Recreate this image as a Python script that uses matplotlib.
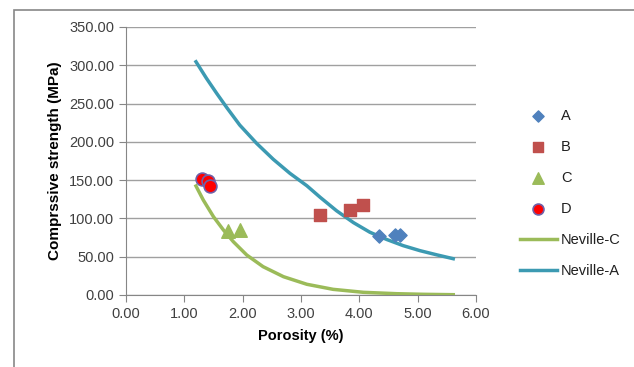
import matplotlib
matplotlib.use("Agg")
import matplotlib.pyplot as plt
from matplotlib.patches import Rectangle

plt.rcParams['font.family'] = ['Liberation Sans', 'DejaVu Sans']

# measured points
a_x = [4.34, 4.61, 4.70]
a_y = [77, 78, 78]
b_x = [3.33, 3.84, 4.07]
b_y = [104, 111, 117]
c_x = [1.75, 1.95]
c_y = [83, 85]
d_x = [1.31, 1.41, 1.44]
d_y = [152, 149, 142]

# curves
nev_c_x = [1.20, 1.325, 1.50, 1.67, 1.84, 2.07, 2.35, 2.70, 3.10, 3.55, 4.07, 4.64, 5.10, 5.61]
nev_c_y = [142.3, 124, 102.2, 84.9, 69.6, 52.2, 37, 23.9, 14, 7.4, 3.5, 1.7, 0.9, 0.4]
nev_a_x = [1.20, 1.38, 1.555, 1.73, 1.95, 2.24, 2.525, 2.81, 3.10, 3.33, 3.61,
           3.90, 4.18, 4.47, 4.75, 5.04, 5.33, 5.61]
nev_a_y = [304.6, 282.9, 263.3, 244.5, 221.9, 198, 177.2, 158.9, 142.7, 127.5, 110,
           94.5, 82, 72.5, 64.5, 57.9, 52.4, 47.4]

xticks = [0, 1, 2, 3, 4, 5, 6]
yticks = [0, 50, 100, 150, 200, 250, 300, 350]

fig = plt.figure(figsize=(6.34, 3.67), dpi=100)
ax = fig.add_axes([126/634, 1-295/367, 350/634, 268/367])

ax.scatter(a_x, a_y, marker='D', s=45, color='#4F81BD', label='A', zorder=4)
ax.scatter(b_x, b_y, marker='s', s=75, color='#C0504D', label='B', zorder=4)
ax.scatter(c_x, c_y, marker='^', s=95, color='#9BBB59', label='C', zorder=4)
ax.scatter(d_x, d_y, marker='o', s=85, color='#FF0000', edgecolor='#7060A8',
           linewidth=1.2, label='D', zorder=4)
ax.plot(nev_c_x, nev_c_y, color='#9BBB59', lw=2.5, label='Neville-C', zorder=3,
        solid_joinstyle='round')
ax.plot(nev_a_x, nev_a_y, color='#3C9AB2', lw=2.5, label='Neville-A', zorder=3,
        solid_joinstyle='round')

ax.set_xlim(0, 6)
ax.set_ylim(0, 350)
ax.set_xticks(xticks)
ax.set_yticks(yticks)
ax.set_xticklabels(['%.2f' % v for v in xticks])
ax.set_yticklabels(['%.2f' % v for v in yticks])
ax.tick_params(labelsize=10.5, color='#868686', length=5, labelcolor='#404040')
ax.yaxis.grid(True, color='#A0A0A0', lw=1)
ax.set_axisbelow(True)
for s in ['top', 'right']:
    ax.spines[s].set_visible(False)
for s in ['left', 'bottom']:
    ax.spines[s].set_color('#868686')

ax.set_xlabel('Porosity (%)', fontsize=10.5, fontweight='bold', labelpad=6)
ax.set_ylabel('Comprssive strength (MPa)', fontsize=11, fontweight='bold', labelpad=5)

leg = fig.legend(loc='upper left', bbox_to_anchor=(507/634, 1-96/367), frameon=False,
                 fontsize=10.5, labelspacing=1.17, handlelength=2.5, handletextpad=0.3,
                 scatterpoints=1, markerscale=0.85)
for t in leg.get_texts():
    t.set_color('#202020')

fig.patches.append(Rectangle((14/634, -0.1), 1.2, 1-10/367+0.1, transform=fig.transFigure,
                             fill=False, edgecolor='#878787', lw=1.2))

fig.savefig('out.png', dpi=100)
